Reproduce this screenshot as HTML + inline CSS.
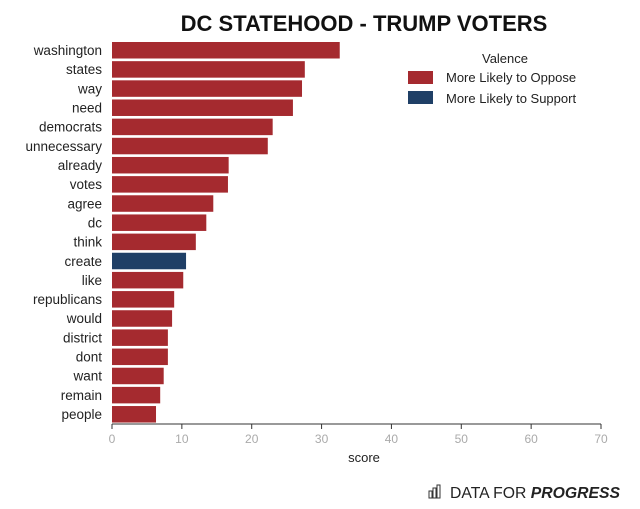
<!DOCTYPE html>
<html><head><meta charset="utf-8"><style>
body{margin:0;background:#fff;width:640px;height:504px;overflow:hidden;font-family:"Liberation Sans",sans-serif}
</style></head><body>
<svg id="chart" width="640" height="504">
<text x="364" y="31" text-anchor="middle" font-size="22" font-weight="bold" fill="#111">DC STATEHOOD - TRUMP VOTERS</text>
<g>
<text x="505" y="63" text-anchor="middle" font-size="13" fill="#222">Valence</text>
<rect x="408" y="71" width="25" height="13" fill="#a52a2f"/>
<text x="446" y="82" font-size="13" fill="#222">More Likely to Oppose</text>
<rect x="408" y="91" width="25" height="13" fill="#1f3f66"/>
<text x="446" y="103" font-size="13" fill="#222">More Likely to Support</text>
</g>
<g id="bars"></g>
<g id="axis"></g>
<text x="364" y="462" text-anchor="middle" font-size="13" fill="#222">score</text>
<g>
<g stroke="#333" fill="none" stroke-width="1"><rect x="429" y="491" width="3" height="7"/><rect x="433" y="488" width="3" height="10"/><rect x="437" y="485" width="3" height="13"/></g>
<text x="450" y="498" font-size="16" textLength="170" lengthAdjust="spacingAndGlyphs" fill="#222">DATA FOR <tspan font-weight="bold" font-style="italic">PROGRESS</tspan></text>
</g>
</svg>
<script>
const categories=["washington","states","way","need","democrats","unnecessary","already","votes","agree","dc","think","create","like","republicans","would","district","dont","want","remain","people"];
const scores=[32.6,27.6,27.2,25.9,23.0,22.3,16.7,16.6,14.5,13.5,12.0,10.6,10.2,8.9,8.6,8.0,8.0,7.4,6.9,6.3];
const valence=["o","o","o","o","o","o","o","o","o","o","o","s","o","o","o","o","o","o","o","o"];
const ticks=[0,10,20,30,40,50,60,70];
const NS="http://www.w3.org/2000/svg";
const x=v=>112+v*(489/70);
const y=i=>50+i*19.16;
const bars=document.getElementById('bars'),axis=document.getElementById('axis');
categories.forEach((c,i)=>{
 const r=document.createElementNS(NS,'rect');
 r.setAttribute('x',x(0));r.setAttribute('y',y(i)-8);
 r.setAttribute('width',x(scores[i])-x(0));r.setAttribute('height',16.5);
 r.setAttribute('fill',valence[i]==="s"?"#1f3f66":"#a52a2f");
 
 
 bars.appendChild(r);
 const t=document.createElementNS(NS,'text');
 t.setAttribute('x',102);t.setAttribute('y',y(i)+5);
 t.setAttribute('text-anchor','end');t.setAttribute('font-size','13.5');t.setAttribute('fill','#222');
 t.textContent=c;
 
 
 bars.appendChild(t);
});
const l=document.createElementNS(NS,'line');
l.setAttribute('x1',x(0));l.setAttribute('x2',x(70));l.setAttribute('y1',424);l.setAttribute('y2',424);l.setAttribute('stroke','#333');


axis.appendChild(l);
ticks.forEach(v=>{
 const tk=document.createElementNS(NS,'line');
 tk.setAttribute('x1',x(v));tk.setAttribute('x2',x(v));tk.setAttribute('y1',424);tk.setAttribute('y2',429);tk.setAttribute('stroke','#333');
 
 
 axis.appendChild(tk);
 const t=document.createElementNS(NS,'text');
 t.setAttribute('x',x(v));t.setAttribute('y',443);t.setAttribute('text-anchor','middle');t.setAttribute('font-size','12');t.setAttribute('fill','#aaa');
 t.textContent=v;
 
 
 axis.appendChild(t);
});
</script>
</body></html>
